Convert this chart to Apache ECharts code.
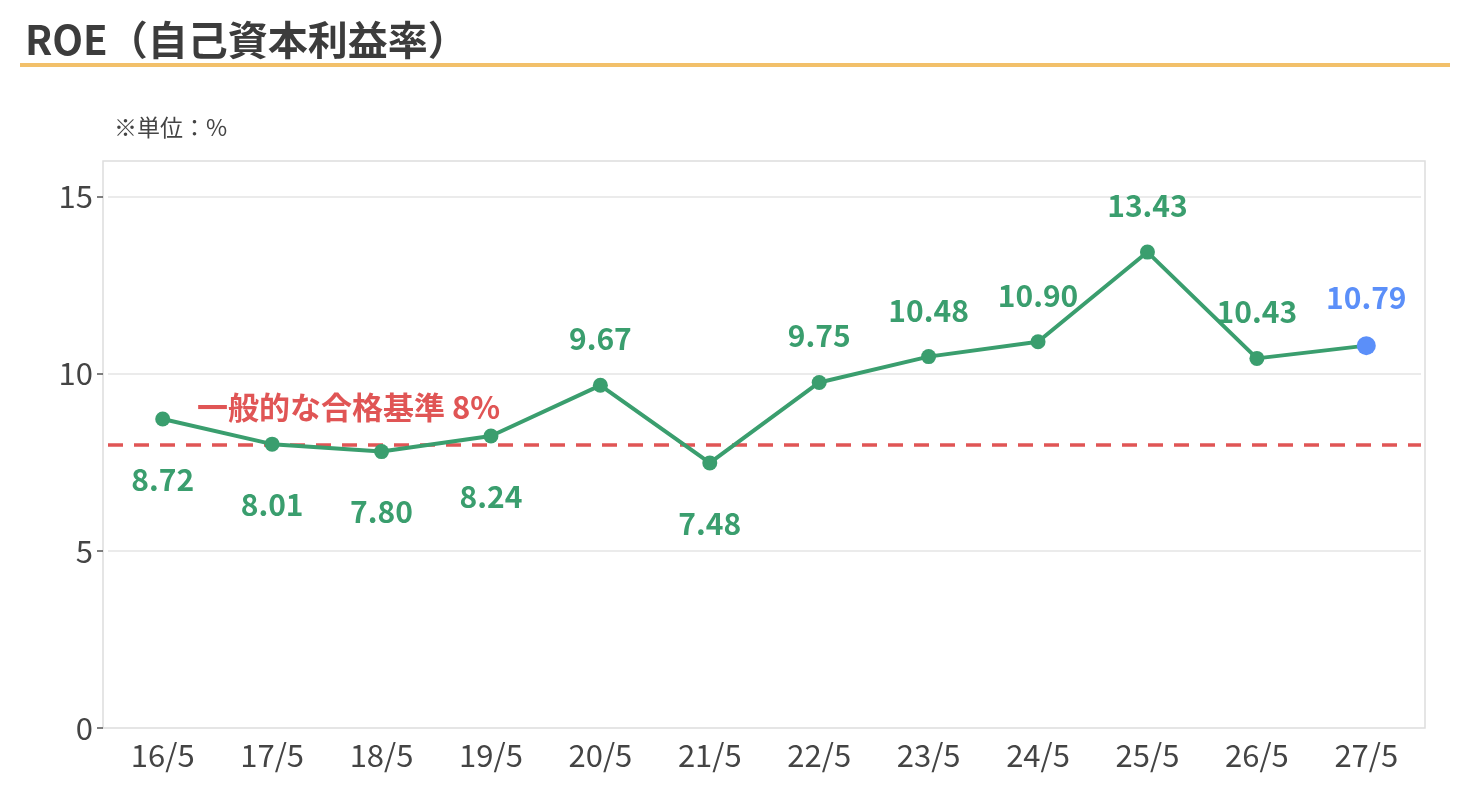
<!DOCTYPE html>
<html><head><meta charset="utf-8">
<script src="https://cdn.jsdelivr.net/npm/echarts@6/dist/echarts.min.js"></script>
<style>html,body{margin:0;padding:0;background:#fff}#c{width:1470px;height:810px}</style>
</head><body><div id="c"></div>
<script>
const categories = ['16/5','17/5','18/5','19/5','20/5','21/5','22/5','23/5','24/5','25/5','26/5','27/5'];
const roeValues = [8.72, 8.01, 7.80, 8.24, 9.67, 7.48, 9.75, 10.48, 10.90, 13.43, 10.43, 10.79];
const labelBelow = [true, true, true, true, false, true, false, false, false, false, false, false];
const benchmark = 8;
const yTicks = {min: 0, max: 16, interval: 5};

const FONT = '"Noto Sans CJK JP", "Noto Sans", sans-serif';
const GREEN = '#3a9e6e';
const BLUE = '#5b8ff9';
const RED = '#e05555';

const data = roeValues.map((v, i) => {
  const last = i === roeValues.length - 1;
  return {
    value: v,
    symbolSize: last ? 19 : 15,
    itemStyle: {color: last ? BLUE : GREEN},
    label: {
      position: labelBelow[i] ? 'bottom' : 'top',
      distance: labelBelow[i] ? 38 : 24,
      color: last ? BLUE : GREEN
    }
  };
});

const chart = echarts.init(document.getElementById('c'));
chart.setOption({
  animation: false,
  title: [{
    text: 'ROE（自己資本利益率）', left: 20, top: 15,
    textStyle: {fontFamily: FONT, fontSize: 40, fontWeight: 'bold', color: '#3c3c3c'}
  }, {
    text: '※単位：%', left: 109, top: 111,
    textStyle: {fontFamily: FONT, fontSize: 23, fontWeight: 'normal', color: '#444'}
  }],
  graphic: [{
    type: 'rect', shape: {x: 20, y: 63, width: 1430, height: 4},
    style: {fill: '#f2c06a'}
  }, {
    type: 'rect', shape: {x: 103, y: 161, width: 1322, height: 567},
    style: {fill: 'none', stroke: '#dddddd', lineWidth: 1.5}, z: 0
  }],
  grid: {left: 108, right: 49, top: 161, bottom: 82, show: false},
  xAxis: {
    type: 'category', data: categories, boundaryGap: true,
    axisLine: {show: false},
    axisTick: {alignWithLabel: true, length: 6, lineStyle: {color: '#555', width: 1.5}},
    axisLabel: {fontFamily: FONT, fontSize: 31, color: '#444', margin: 12}
  },
  yAxis: {
    type: 'value', min: yTicks.min, max: yTicks.max, interval: yTicks.interval,
    offset: 5,
    axisLine: {show: false},
    axisTick: {show: true, length: 6, lineStyle: {color: '#555', width: 1.5}},
    axisLabel: {fontFamily: FONT, fontSize: 31, color: '#444', margin: 10,
      showMaxLabel: false},
    splitLine: {lineStyle: {color: '#e4e4e4', width: 1.5}}
  },
  series: [{
    type: 'line', data: data, symbol: 'circle',
    lineStyle: {color: GREEN, width: 4},
    itemStyle: {color: GREEN},
    z: 3,
    label: {show: true, fontFamily: FONT, fontSize: 30, fontWeight: 'bold',
      formatter: p => p.value.toFixed(2)},
    markLine: {
      symbol: 'none', silent: true,
      lineStyle: {color: RED, type: [15, 11], width: 3.5},
      data: [{yAxis: benchmark}],
      label: {show: true, position: 'insideStartTop', distance: [89, 22],
        formatter: '一般的な合格基準 8%',
        fontFamily: FONT, fontSize: 31, fontWeight: 'bold', color: RED},
      z: 2
    }
  }]
});
</script></body></html>
